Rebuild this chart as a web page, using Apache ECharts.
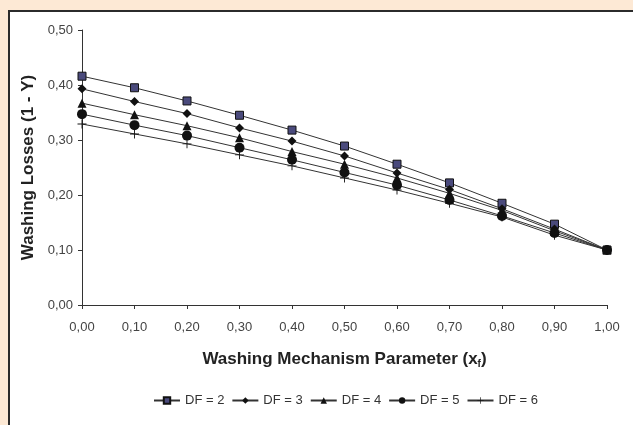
<!DOCTYPE html>
<html>
<head>
<meta charset="utf-8">
<script src="https://cdn.jsdelivr.net/npm/echarts@6/dist/echarts.min.js"></script>
<style>
  html, body { margin: 0; padding: 0; background: #fde9d5; }
  #chart { width: 633px; height: 425px; }
</style>
</head>
<body>
<div id="chart"></div>
<script>
const xValues = [0, 0.1, 0.2, 0.3, 0.4, 0.5, 0.6, 0.7, 0.8, 0.9, 1.0]
const df2 = [0.416, 0.395, 0.371, 0.345, 0.318, 0.289, 0.256, 0.222, 0.185, 0.147, 0.100]
const df3 = [0.393, 0.370, 0.348, 0.322, 0.298, 0.271, 0.240, 0.210, 0.175, 0.138, 0.100]
const df4 = [0.367, 0.346, 0.326, 0.304, 0.279, 0.256, 0.231, 0.203, 0.172, 0.135, 0.100]
const df5 = [0.347, 0.327, 0.308, 0.286, 0.264, 0.241, 0.218, 0.191, 0.162, 0.131, 0.100]
const df6 = [0.329, 0.311, 0.293, 0.273, 0.253, 0.231, 0.209, 0.185, 0.160, 0.127, 0.100]
const seriesNames = ['DF = 2', 'DF = 3', 'DF = 4', 'DF = 5', 'DF = 6']

const plusPath = 'path://M4.5,0 L5.5,0 L5.5,4.5 L10,4.5 L10,5.5 L5.5,5.5 L5.5,10 L4.5,10 L4.5,5.5 L0,5.5 L0,4.5 L4.5,4.5 Z'

const comma = (v) => v.toFixed(2).replace('.', ',')
const pairs = (ys) => xValues.map((x, i) => [x, ys[i]])

const makeSeries = (name, ys, symbol, size, fill) => ({
  name,
  type: 'line',
  data: pairs(ys),
  symbol,
  symbolSize: size,
  showSymbol: true,
  lineStyle: { width: 1, color: '#333' },
  itemStyle: { color: fill, borderColor: '#111', borderWidth: fill === '#111' ? 0 : 1 },
  emphasis: { disabled: true },
  animation: false
})

const myChart = echarts.init(document.getElementById('chart'))

const option = {
  backgroundColor: '#fde9d5',
  textStyle: { fontFamily: 'Liberation Sans, Arial, sans-serif' },
  graphic: [
    {
      type: 'rect',
      z: -10,
      shape: { x: 9, y: 11, width: 700, height: 500 },
      style: { fill: '#ffffff', stroke: '#2b2b2b', lineWidth: 2 }
    }
  ],
  grid: { left: 82, right: 26, top: 30, bottom: 120 },
  xAxis: {
    type: 'value',
    min: 0,
    max: 1,
    interval: 0.1,
    splitLine: { show: false },
    axisLine: { lineStyle: { color: '#333', width: 1 } },
    axisTick: { lineStyle: { color: '#333' }, length: 4 },
    axisLabel: { formatter: comma, color: '#444', fontSize: 13, margin: 16 },
    name: '{a|Washing Mechanism Parameter (x}{s|f}{a|)}',
    nameLocation: 'middle',
    nameGap: 44,
    nameTextStyle: {
      rich: {
        a: { fontSize: 17, fontWeight: 'bold', color: '#222' },
        s: { fontSize: 10, fontWeight: 'bold', color: '#222', verticalAlign: 'bottom', padding: [10, 0, 0, 0] }
      }
    }
  },
  yAxis: {
    type: 'value',
    min: 0,
    max: 0.5,
    interval: 0.1,
    splitLine: { show: false },
    axisLine: { show: true, lineStyle: { color: '#333', width: 1 } },
    axisTick: { show: true, lineStyle: { color: '#333' }, length: 4 },
    axisLabel: { formatter: comma, color: '#444', fontSize: 13, margin: 9 },
    name: 'Washing Losses (1 - Y)',
    nameLocation: 'middle',
    nameGap: 44,
    nameTextStyle: { fontSize: 17, fontWeight: 'bold', color: '#222' }
  },
  legend: {
    bottom: 13,
    left: 148,
    itemWidth: 26,
    itemHeight: 8,
    itemGap: 7,
    textStyle: { fontSize: 13, color: '#333' },
    data: seriesNames
  },
  series: [
    makeSeries(seriesNames[0], df2, 'rect', 8, '#4a4a7c'),
    makeSeries(seriesNames[1], df3, 'diamond', 9, '#111'),
    makeSeries(seriesNames[2], df4, 'triangle', 9, '#111'),
    makeSeries(seriesNames[3], df5, 'circle', 10, '#111'),
    makeSeries(seriesNames[4], df6, plusPath, 9, '#111')
  ]
}

myChart.setOption(option)
</script>
</body>
</html>
